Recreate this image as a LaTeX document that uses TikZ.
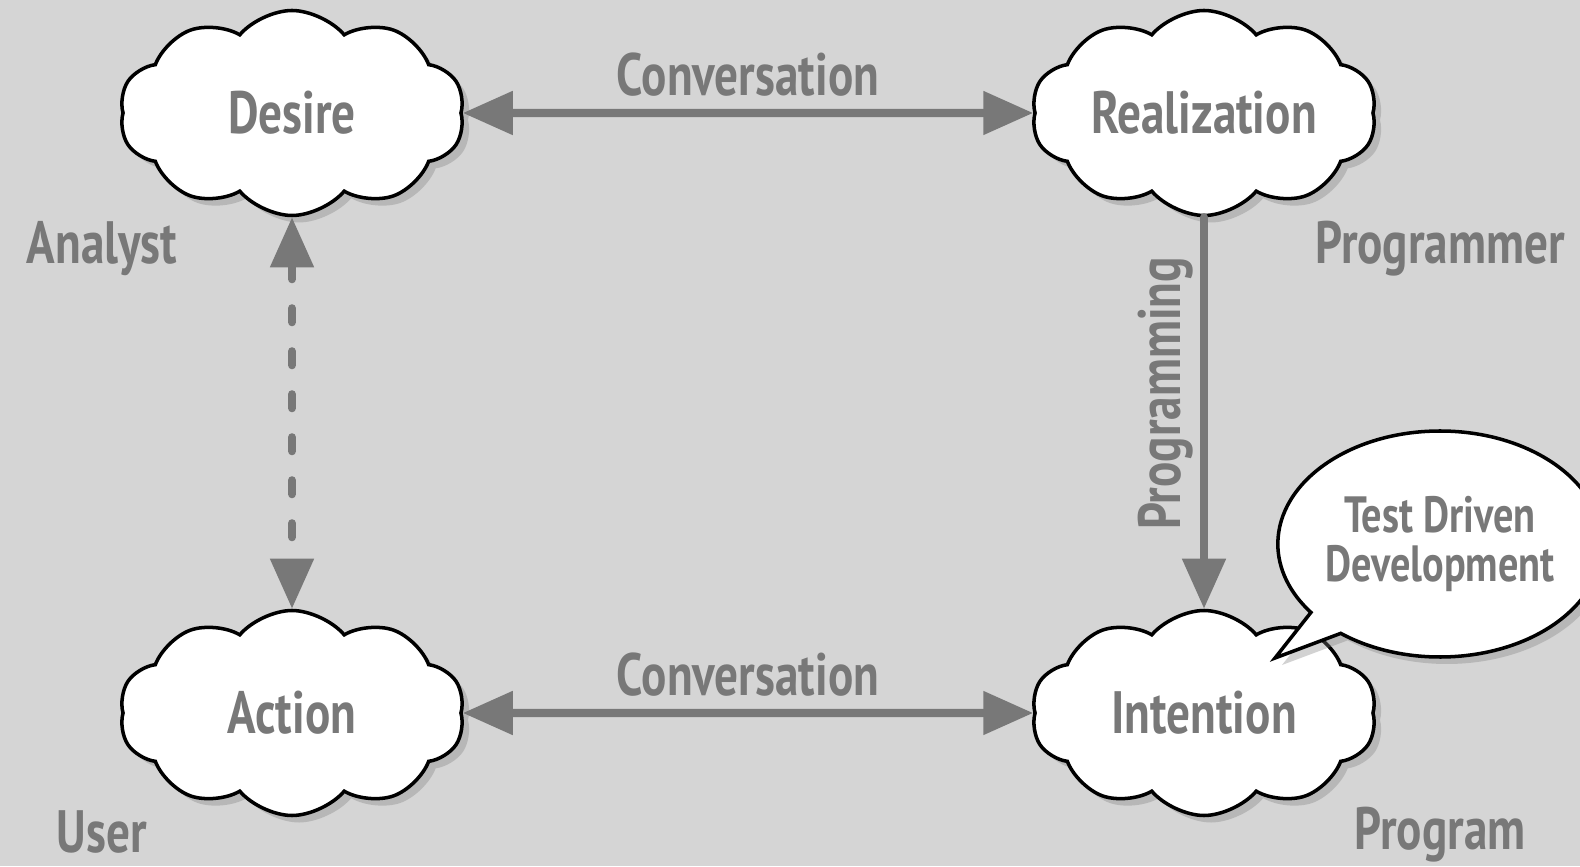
\documentclass[tikz,border=0pt]{standalone}
\usepackage{fontspec}
\newfontfamily\handfont[FakeStretch=0.79]{PT Sans}
\usepackage{tikz}
\usetikzlibrary{shapes.symbols,shapes.callouts}
\usetikzlibrary{arrows.meta}
\usetikzlibrary{shadows}
\usetikzlibrary{positioning}
\definecolor{bggray}{HTML}{D5D5D5}
\definecolor{inkgray}{HTML}{787878}
\tikzstyle{thought} = [draw=black, fill=white, cloud, cloud puffs=10,
    cloud puff arc=100, aspect=1.7, minimum width=3.45cm, minimum height=2.05cm,
    inner sep=0pt, line width=1pt,
    drop shadow={shadow xshift=0.07cm, shadow yshift=-0.07cm, opacity=0.35},
    text=inkgray, font=\handfont\bfseries\fontsize{17}{20}\selectfont]
\tikzstyle{role} = [text=inkgray, font=\handfont\bfseries\fontsize{17}{20}\selectfont]
\tikzstyle{speech} = [draw=black, fill=white, ellipse callout, line width=1pt,
    minimum width=3.15cm, minimum height=2.26cm, inner sep=0pt, align=center,
    drop shadow={shadow xshift=0.07cm, shadow yshift=-0.07cm, opacity=0.35},
    text=inkgray, font=\handfont\bfseries\fontsize{14.5}{14}\selectfont]
\tikzstyle{link} = [draw=inkgray, line width=2.3pt]
% fixed text box, so every cloud keeps the same size
\newcommand{\puff}[1]{\makebox[1.2cm]{#1}}

\begin{document}
\begin{tikzpicture}[>={Triangle[length=0.5cm,width=0.42cm]}]

    \fill[bggray] (0,0) rectangle (15.8,8.66);
    \useasboundingbox (0,0) rectangle (15.8,8.66);

    \node[thought] at (2.92,7.53) (desire) {\puff{Desire}};
    \node[thought] at (12.04,7.53) (realization) {\puff{Realization}};
    \node[thought] at (2.92,1.53) (action) {\puff{Action}};
    \node[thought] at (12.04,1.53) (intention) {\puff{Intention}};

    \node[role, anchor=base] at (1.02,6.02) (analyst) {Analyst};
    \node[role, anchor=base] at (14.40,6.02) (programmer) {Programmer};
    \node[role, anchor=base] at (1.02,0.14) (user) {User};
    \node[role, anchor=base] at (14.40,0.17) (program) {Program};

    \draw[link, <->] (desire) -- node[role, above, inner sep=3.5pt] {Conversation} (realization);
    \draw[link, <->] (action) -- node[role, above, inner sep=3.5pt] {Conversation} (intention);
    \draw[link, <->, line cap=round, dash pattern=on 0.14cm off 0.29cm] (desire) -- (action);
    \draw[link, ->, line cap=round] (realization) -- node[role, pos=0.45, rotate=90, anchor=south, inner sep=2pt] {Programming} (intention);

    % callout over the intention cloud
    \coordinate (tip) at (12.75,2.08);
    \node[speech, callout absolute pointer={(tip)}] at (14.40,3.22) (tdd) {Test Driven\\Development};
\end{tikzpicture}
\end{document}
